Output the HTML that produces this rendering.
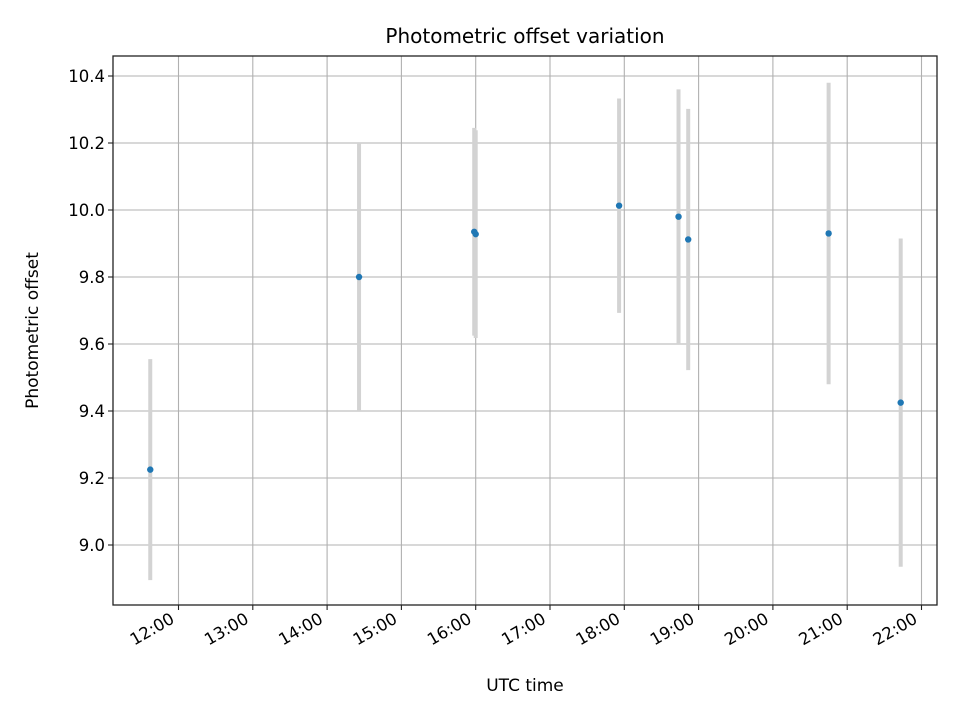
<!DOCTYPE html>
<html><head><meta charset="utf-8"><style>
body{margin:0;background:#fff;}
svg{display:block;font-family:"DejaVu Sans","Liberation Sans",sans-serif;}
</style></head><body>
<svg id="chart" width="960" height="720" viewBox="0 0 960 720"></svg>
<script>
const times = [11.62, 14.43, 15.98, 16.00, 17.93, 18.73, 18.86, 20.75, 21.72];
const offsets = [9.225, 9.80, 9.935, 9.928, 10.013, 9.98, 9.912, 9.93, 9.425];
const errors = [0.33, 0.40, 0.31, 0.31, 0.32, 0.38, 0.39, 0.45, 0.49];
const xTicks = [12,13,14,15,16,17,18,19,20,21,22];
const xTickLabels = ["12:00","13:00","14:00","15:00","16:00","17:00","18:00","19:00","20:00","21:00","22:00"];
const yTicks = [9.0,9.2,9.4,9.6,9.8,10.0,10.2,10.4];
const yTickLabels = ["9.0","9.2","9.4","9.6","9.8","10.0","10.2","10.4"];

const L=113,R=937,T=56,B=605;
const xs = t => 178.5 + (t-12)*74.3;
const ys = v => 545 - (v-9.0)*335;
const svg=document.getElementById('chart');
const NS='http://www.w3.org/2000/svg';
function mk(tag,attrs,parent){const e=document.createElementNS(NS,tag);for(const k in attrs)e.setAttribute(k,attrs[k]);(parent||svg).appendChild(e);return e;}

const grid=mk('g',{});


xTicks.forEach((t,i)=>{
  const x=xs(t);
  const gl=mk('line',{x1:x,x2:x,y1:T,y2:B,stroke:'#b0b0b0','stroke-width':1.1},grid);
  
  
  mk('line',{x1:x,x2:x,y1:B,y2:B+5,stroke:'#222','stroke-width':1.1});
  const ax=x-3, ay=B+17;
  const tx=mk('text',{x:ax,y:ay,'font-size':16.5,'text-anchor':'end',transform:`rotate(-30 ${ax} ${ay})`,fill:'#000'});
  tx.textContent=xTickLabels[i];
  
  
});
yTicks.forEach((v,i)=>{
  const y=ys(v);
  const gl=mk('line',{x1:L,x2:R,y1:y,y2:y,stroke:'#b0b0b0','stroke-width':1.1},grid);
  
  
  mk('line',{x1:L-5,x2:L,y1:y,y2:y,stroke:'#222','stroke-width':1.1});
  const tx=mk('text',{x:L-8,y:y+6,'font-size':16.5,'text-anchor':'end',fill:'#000'});
  tx.textContent=yTickLabels[i];
  
  
});
times.forEach((t,i)=>{
  const x=xs(t);
  const eb=mk('line',{x1:x,x2:x,y1:ys(offsets[i]+errors[i]),y2:ys(offsets[i]-errors[i]),stroke:'#d3d3d3','stroke-width':4});
  
  
});
times.forEach((t,i)=>{
  const p=mk('circle',{cx:xs(t),cy:ys(offsets[i]),r:3.2,fill:'#1f77b4'});
  
  
});
const frame=mk('rect',{x:L,y:T,width:R-L,height:B-T,fill:'none',stroke:'#222','stroke-width':1.3});


const title=mk('text',{x:(L+R)/2,y:43,'font-size':20,'text-anchor':'middle',fill:'#000'});
title.textContent='Photometric offset variation';


const xl=mk('text',{x:(L+R)/2,y:691,'font-size':17,'text-anchor':'middle',fill:'#000'});
xl.textContent='UTC time';


const yl=mk('text',{x:38,y:(T+B)/2,'font-size':17,'text-anchor':'middle',transform:`rotate(-90 38 ${(T+B)/2})`,fill:'#000'});
yl.textContent='Photometric offset';


</script>
</body></html>
